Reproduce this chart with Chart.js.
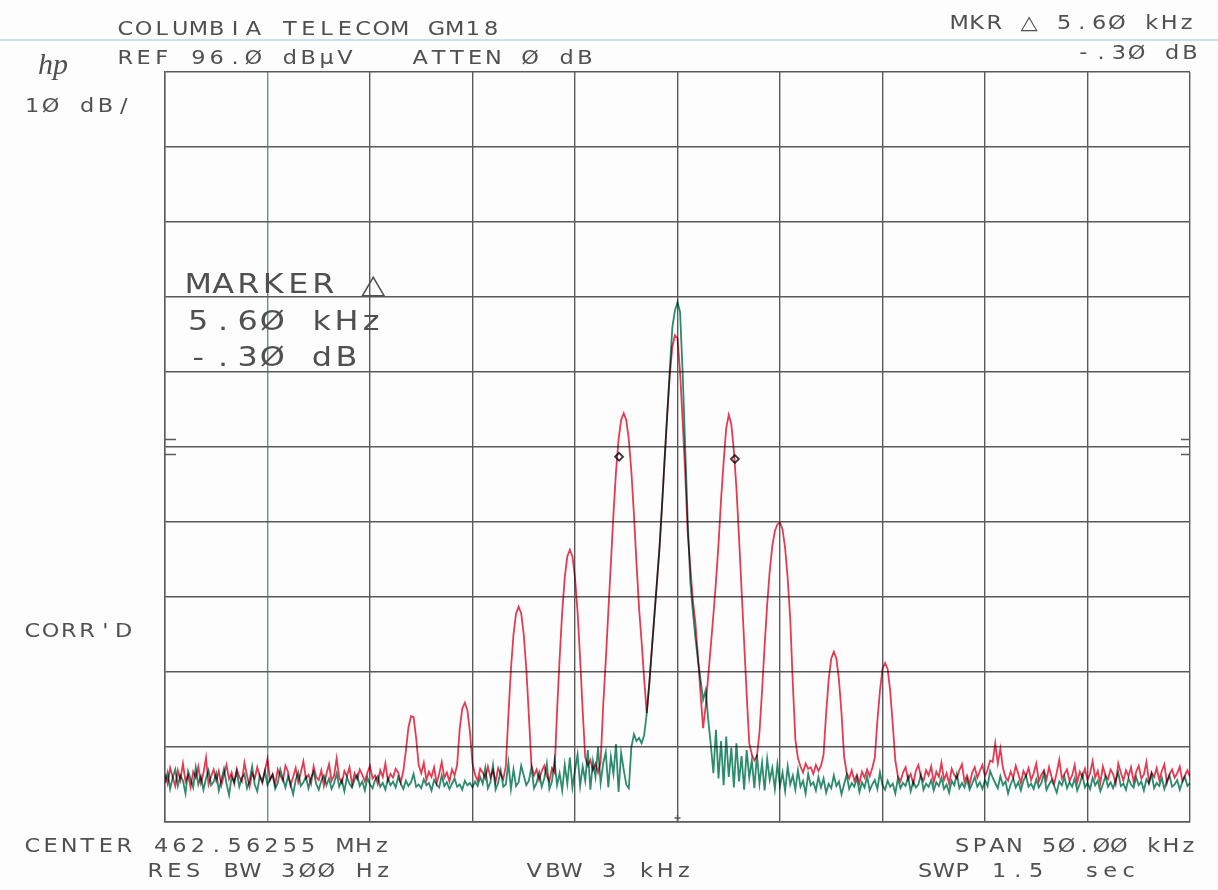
<!DOCTYPE html>
<html>
<head>
<meta charset="utf-8">
<title>COLUMBIA TELECOM GM18</title>
<script src="https://cdn.jsdelivr.net/npm/chart.js@4.4.1/dist/chart.umd.min.js"></script>
<style>
  body { margin: 0; background: #fdfdfd; }
  canvas { display: block; }
</style>
</head>
<body>
<canvas id="spectrum" width="1218" height="890"></canvas>
<script>
// sweep: 401 points over 50 kHz span, centre 462.56255 MHz
const sweepStartKHz = -25;
const sweepStepKHz = 0.125;

const freqTicks = [-25, -20, -15, -10, -5, 0, 5, 10, 15, 20, 25];
const levelTicks = [-4, 6, 16, 26, 36, 46, 56, 66, 76, 86, 96]; // REF 96 dBuV, 10 dB/div

// modulated carrier (red), dBuV
const redTrace = [
  2.4, 1.1, 3.2, 2.0, 0.8, 2.9, 1.6, 3.8, 1.4, 2.2, 0.6, 2.7, 1.9, 3.4, 1.2, 2.5, 4.6, 1.0, 2.1, 3.0,
  1.5, 2.8, 0.9, 2.3, 3.6, 1.7, 2.6, 1.1, 3.1, 2.0, 1.4, 3.9, 2.2, 0.7, 2.5, 1.8, 3.3, 2.1, 1.2, 2.9,
  4.4, 1.6, 2.4, 1.0, 3.0, 2.2, 1.5, 3.5, 2.7, 0.9, 2.0, 3.2, 1.3, 2.6, 4.1, 1.8, 2.3, 1.1, 3.4, 2.0,
  1.6, 2.9, 0.8, 2.4, 3.7, 1.5, 2.2, 4.5, 1.9, 1.2, 2.8, 2.1, 3.3, 1.0, 2.5, 1.7, 3.0, 2.3, 1.4, 2.6,
  3.5, 1.8, 2.2, 1.1, 2.9, 2.0, 3.8, 1.5, 2.4, 1.9, 3.1, 2.6, 1.3, 2.8, 5.5, 8.6, 10.1, 10.0, 7.2, 3.6,
  2.5, 3.9, 1.6, 2.7, 2.0, 3.3, 1.2, 2.4, 4.0, 1.9, 2.6, 1.4, 3.0, 2.2, 3.6, 8.4, 11.1, 11.9, 10.9, 8.0,
  3.8, 2.3, 1.5, 3.1, 2.6, 1.8, 3.4, 2.0, 2.9, 1.3, 3.2, 2.4, 1.7, 3.4, 10.2, 16.4, 21.0, 23.8, 24.7, 23.8,
  21.0, 16.4, 10.2, 3.6, 2.2, 3.0, 1.6, 2.8, 3.5, 2.1, 1.4, 3.2, 2.6, 10.8, 17.8, 24.0, 28.6, 31.4, 32.3, 31.4,
  28.6, 24.0, 17.8, 10.8, 4.6, 3.5, 4.3, 2.9, 3.8, 2.6, 4.0, 11.5, 17.5, 24.0, 30.5, 37.0, 42.7, 47.0, 49.6, 50.5,
  49.6, 47.0, 42.7, 37.0, 30.5, 24.5, 20.0, 15.0, 10.5, 14.5, 19.1, 23.6, 28.1, 32.7, 38.4, 44.5, 50.3, 55.6, 59.4, 60.9,
  60.5, 56.0, 49.5, 42.5, 34.5, 30.0, 25.5, 22.5, 18.0, 13.0, 8.5, 11.5, 15.5, 19.5, 23.6, 28.0, 33.0, 39.0, 44.0, 48.5,
  50.3, 49.0, 45.5, 40.5, 34.0, 27.0, 20.0, 13.0, 6.5, 5.0, 4.2, 4.8, 8.0, 13.5, 19.5, 25.0, 29.5, 32.8, 34.8, 35.7,
  35.9, 35.0, 32.5, 28.5, 23.0, 14.5, 7.0, 4.5, 3.4, 2.6, 3.8, 3.1, 3.3, 2.4, 3.6, 2.8, 3.5, 5.0, 10.5, 15.0,
  17.8, 18.7, 17.8, 15.0, 10.5, 4.8, 2.6, 1.8, 2.9, 1.5, 2.3, 1.2, 2.7, 1.9, 3.0, 2.1, 3.2, 4.6, 9.5, 13.5,
  16.4, 17.2, 16.4, 13.5, 9.0, 4.2, 2.1, 1.4, 2.6, 3.3, 1.7, 2.4, 1.1, 2.8, 3.6, 2.0, 1.5, 2.9, 2.2, 3.4,
  1.3, 2.7, 2.0, 3.9, 1.6, 2.5, 1.1, 3.1, 2.3, 1.8, 2.9, 3.7, 1.4, 2.2, 1.0, 2.6, 3.3, 1.9, 2.8, 3.6,
  2.1, 3.0, 4.2, 4.0, 6.5, 3.8, 5.8, 3.2, 2.0, 1.5, 2.7, 1.9, 3.5, 2.4, 1.2, 2.8, 2.1, 3.2, 1.6, 2.5,
  3.8, 1.4, 2.3, 2.9, 1.7, 3.3, 2.0, 1.1, 2.6, 4.3, 1.8, 2.4, 3.0, 1.5, 2.2, 3.6, 1.3, 2.7, 2.0, 3.1,
  1.6, 2.5, 4.1, 1.9, 2.8, 1.2, 3.4, 2.2, 1.7, 3.0, 2.4, 1.1, 3.8, 2.6, 1.5, 2.9, 2.1, 3.3, 1.4, 2.7,
  3.5, 1.8, 2.3, 4.0, 1.3, 2.6, 2.0, 3.2, 1.6, 2.8, 3.7, 1.2, 2.4, 3.0, 1.9, 2.5, 3.4, 1.5, 2.2, 2.9,
  2.0
];

// unmodulated carrier (green), dBuV
const greenTrace = [
  1.2, 2.6, 0.4, 1.9, 3.0, 0.8, 2.2, 1.5, -0.2, 2.8, 1.7, 0.6, 3.3, 1.0, 2.1, 0.3, 1.8, 2.9, 0.9, 1.4,
  2.5, 0.2, 1.6, 3.1, 1.1, -0.4, 2.0, 1.3, 2.7, 0.7, 1.9, 2.4, 0.5, 1.5, 3.4, 1.0, 0.1, 2.2, 1.4, 2.8,
  0.9, 1.7, 2.3, 0.4, 1.2, 3.0, 1.8, 0.6, 2.1, 1.0, -0.3, 1.6, 2.6, 0.8, 1.3, 2.0, 0.5, 1.9, 2.7, 1.1,
  0.3, 1.5, 2.2, 0.9, 1.8, 0.4, 1.2, 2.5, 0.7, 1.6, 0.1, 2.0, 1.1, 0.6, 1.7, 2.3, 0.8, 1.4, 0.2, 1.9,
  1.0, 0.5, 1.6, 2.1, 0.7, 1.2, 0.3, 1.8, 0.9, 1.4, 0.6, 2.0, 1.1, 0.4, 1.5, 0.8, 1.3, 2.4, 0.7, 1.0,
  0.5, 1.7, 0.9, 1.2, 0.2, 1.6, 1.0, 0.6, 2.2, 0.8, 1.3, 0.4, 1.1, 1.8, 0.7, 1.0, 0.3, 1.5, 0.9, 1.2,
  0.6, 1.4, 0.8, 2.0, 1.1, 3.2, 0.5, 1.3, 3.6, 0.3, 1.2, 2.9, 0.7, 1.0, 3.9, 0.4, 3.0, 0.8, 1.3, 3.5,
  2.2, 0.9, 1.5, 3.3, 0.5, 1.2, 2.6, 0.7, 1.8, 3.8, 0.4, 1.4, 4.2, 0.9, 2.5, 0.2, 3.6, 1.1, 4.6, 0.6,
  2.9, 5.0, 0.8, 3.4, 1.5, 5.6, 0.3, 4.1, 2.0, 6.0, 1.2, 3.8, 5.3, 0.6, 4.7, 2.4, 6.4, 0.0, 5.2, 3.0,
  1.0, 0.5, 6.0, 7.7, 6.8, 7.2, 6.5, 7.6, 10.5, 14.5, 19.1, 23.6, 28.1, 32.7, 38.4, 44.5, 50.5, 56.4, 62.0, 64.2,
  65.3, 64.0, 56.0, 46.0, 36.0, 28.0, 24.0, 20.5, 17.5, 15.0, 12.3, 13.6, 9.6, 6.3, 2.5, 8.3, 1.8, 6.8, 0.9, 7.4,
  2.0, 5.9, 0.6, 6.5, 1.4, 4.8, 0.3, 5.6, 1.9, 4.2, 0.5, 5.0, 1.1, 3.9, 0.2, 4.4, 1.6, 3.2, 0.4, 3.7,
  0.8, 2.6, 0.1, 3.4, 1.0, 2.2, 0.3, 2.9, 0.7, 1.5, -0.2, 2.4, 0.9, 1.3, 0.2, 2.0, 0.6, 1.8, -0.1, 1.1,
  0.5, 2.2, 0.8, 1.4, -0.3, 1.0, 2.3, 0.4, 1.2, 0.7, 1.9, 0.0, 1.3, 0.6, 2.1, 0.2, 1.0, 1.6, 0.4, 2.6,
  0.9, 0.3, 1.5, 0.7, 1.1, -0.2, 1.8, 0.5, 1.2, 0.8, 2.0, 0.1, 1.4, 0.6, 1.0, 2.3, 0.3, 1.1, 0.7, 1.6,
  0.2, 1.3, 0.8, 1.9, 0.4, 1.0, -0.1, 1.5, 0.9, 2.4, 0.5, 1.2, 0.6, 1.7, 0.3, 1.1, 2.0, 0.7, 1.3, 0.4,
  1.6, 0.8, 2.8, 1.9, 1.2, 0.5, 2.1, 0.9, 1.4, -0.2, 1.0, 1.8, 0.6, 1.3, 0.2, 1.5, 2.2, 0.7, 1.1, 0.4,
  1.7, 0.6, 1.2, 2.5, 0.3, 1.0, 1.6, 0.8, -0.1, 1.4, 0.9, 2.0, 0.5, 1.3, 0.7, 1.8, 0.2, 1.1, 2.3, 0.6,
  1.2, 0.4, 1.9, 0.9, 1.5, 0.1, 1.0, 2.1, 0.7, 1.3, 0.5, 1.6, 2.6, 0.8, 1.1, 0.3, 1.8, 1.0, 0.6, 2.0,
  0.9, 1.4, 0.2, 1.7, 1.1, 2.4, 0.5, 1.2, 0.8, 1.9, 0.4, 1.5, 2.2, 0.7, 1.0, 1.6, 0.3, 1.3, 2.0, 0.8,
  1.2
];

// delta marker pair
const markerFreqs = [-2.85, 2.8];
const markerLevels = [44.7, 44.4];

const toPoints = (arr) =>
  arr.map((v, i) => ({ x: sweepStartKHz + i * sweepStepKHz, y: v }));

const INK = "#505050";

// plotter lettering: one widened glyph per fixed-pitch cell, x is the left edge of the first glyph
function plotText(ctx, str, x, y, pitch, size) {
  ctx.font = size + 'px "DejaVu Sans"';
  ctx.textAlign = "center";
  const half = size * 0.38;
  [...str].forEach((ch, i) => {
    ctx.save();
    ctx.translate(x + half + i * pitch, y);
    ctx.scale(1.18, 1);
    ctx.fillText(ch, 0, 0);
    ctx.restore();
  });
}

const plotterDecor = {
  id: "plotterDecor",
  beforeDraw(chart) {
    const ctx = chart.ctx;
    ctx.save();
    ctx.fillStyle = "#fdfdfd";
    ctx.fillRect(0, 0, chart.width, chart.height);
    // faint scanner streak near the top
    ctx.strokeStyle = "rgba(165,200,228,0.55)";
    ctx.lineWidth = 2;
    ctx.beginPath();
    ctx.moveTo(0, 40);
    ctx.lineTo(chart.width, 40);
    ctx.stroke();
    ctx.restore();
  },
  beforeDatasetsDraw(chart) {
    chart.ctx.save();
    chart.ctx.globalCompositeOperation = "multiply"; // overlapping pens go dark
  },
  afterDatasetsDraw(chart) {
    chart.ctx.restore();
  },
  afterDraw(chart) {
    const ctx = chart.ctx;
    const { left, right, bottom } = chart.chartArea;
    const y = chart.scales.y;
    const x = chart.scales.x;
    ctx.save();
    ctx.fillStyle = INK;
    ctx.textBaseline = "alphabetic";

    plotText(ctx, "COLUMBIA TELECOM GM18", 118, 35, 18.3, 19);
    plotText(ctx, "REF 96.Ø dBµV", 118, 64, 18.3, 19);
    plotText(ctx, "ATTEN Ø dB", 413, 64, 18.3, 19);
    plotText(ctx, "MKR △ 5.6Ø kHz", 952, 29, 17.5, 19);
    plotText(ctx, "-.3Ø dB", 1076, 59, 17.8, 19);
    plotText(ctx, "1Ø dB/", 25, 112, 18.3, 19);
    plotText(ctx, "CORR'D", 25, 637, 18.3, 19);
    plotText(ctx, "CENTER 462.56255 MHz", 25, 852, 18.4, 19);
    plotText(ctx, "RES BW 3ØØ Hz", 148, 877, 19, 19);
    plotText(ctx, "VBW 3 kHz", 527, 877, 18.7, 19);
    plotText(ctx, "SPAN 5Ø.ØØ kHz", 955, 852, 17.4, 19);
    plotText(ctx, "SWP 1.5  sec", 918, 877, 18.5, 19);

    plotText(ctx, "MARKER △", 188, 293, 25, 27);
    plotText(ctx, "5.6Ø kHz", 188, 330, 24.7, 27);
    plotText(ctx, "-.3Ø dB", 188, 366, 24.7, 27);

    // hp logo
    ctx.textAlign = "left";
    ctx.font = 'italic 30px "Liberation Serif"';
    ctx.fillText("hp", 38, 74);

    // small level ticks on both edges
    ctx.strokeStyle = "#5a5a5a";
    ctx.lineWidth = 1.5;
    [47, 45].forEach((v) => {
      const py = y.getPixelForValue(v);
      ctx.beginPath();
      ctx.moveTo(left, py);
      ctx.lineTo(left + 11, py);
      ctx.moveTo(right - 9, py);
      ctx.lineTo(right, py);
      ctx.stroke();
    });
    // centre frequency tick on the bottom edge
    const cx = x.getPixelForValue(0);
    ctx.beginPath();
    ctx.moveTo(cx, bottom - 7);
    ctx.lineTo(cx, bottom);
    ctx.moveTo(cx - 3, bottom - 4);
    ctx.lineTo(cx + 3, bottom - 4);
    ctx.stroke();
    ctx.restore();
  }
};

new Chart(document.getElementById("spectrum"), {
  type: "line",
  data: {
    datasets: [
      {
        label: "Markers",
        data: markerFreqs.map((f, i) => ({ x: f, y: markerLevels[i] })),
        showLine: false,
        pointStyle: "rectRot",
        pointRadius: 4,
        pointBackgroundColor: "#fdfdfd",
        pointBorderColor: "#3a3a3a",
        pointBorderWidth: 1.8
      },
      {
        label: "Modulated",
        data: toPoints(redTrace),
        borderColor: "rgb(232, 58, 82)",
        borderWidth: 1.8,
        pointRadius: 0,
        tension: 0
      },
      {
        label: "Carrier",
        data: toPoints(greenTrace),
        borderColor: "rgb(44, 140, 108)",
        borderWidth: 1.8,
        pointRadius: 0,
        tension: 0
      }
    ]
  },
  options: {
    responsive: false,
    animation: false,
    devicePixelRatio: 1,
    layout: { padding: { left: 165, right: 28, top: 72, bottom: 68 } },
    plugins: { legend: { display: false }, tooltip: { enabled: false } },
    scales: {
      x: {
        type: "linear",
        min: -25,
        max: 25,
        afterBuildTicks: (s) => { s.ticks = freqTicks.map((v) => ({ value: v })); },
        afterFit: (s) => { s.height = 0; },
        ticks: { display: false },
        grid: {
          drawTicks: false,
          lineWidth: 1.4,
          color: (c) => (c.index === 1 ? "#6a8f8c" : "#5a5a5a")
        },
        border: { display: true, color: "#5a5a5a", width: 1.4 }
      },
      y: {
        min: -4,
        max: 96,
        afterBuildTicks: (s) => { s.ticks = levelTicks.map((v) => ({ value: v })); },
        afterFit: (s) => { s.width = 0; },
        ticks: { display: false },
        grid: { drawTicks: false, lineWidth: 1.4, color: "#5a5a5a" },
        border: { display: true, color: "#5a5a5a", width: 1.4 }
      }
    }
  },
  plugins: [plotterDecor]
});
</script>
</body>
</html>
